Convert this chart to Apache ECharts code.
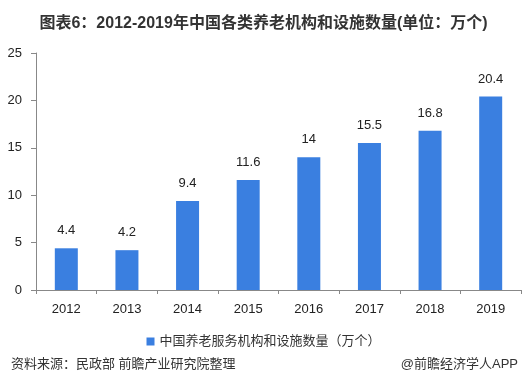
<!DOCTYPE html>
<html><head><meta charset="utf-8">
<script src="https://cdn.jsdelivr.net/npm/echarts@6/dist/echarts.min.js"></script>
<style>html,body{margin:0;padding:0;background:#fff}#c{width:527px;height:387px}</style>
</head><body><div id="c"></div>
<script>
const categories = ['2012','2013','2014','2015','2016','2017','2018','2019'];
const values = [4.4, 4.2, 9.4, 11.6, 14, 15.5, 16.8, 20.4];
const seriesName = '中国养老服务机构和设施数量（万个）';
const titleText = '图表6：2012-2019年中国各类养老机构和设施数量(单位：万个)';
const sourceText = '资料来源：民政部 前瞻产业研究院整理';
const creditText = '@前瞻经济学人APP';
const font = '"Liberation Sans", Arial, "Noto Sans CJK SC", sans-serif';
const chart = echarts.init(document.getElementById('c'), null, {renderer:'canvas'});
chart.setOption({
  animation:false,
  textStyle:{fontFamily:font},
  title:[{text:titleText,left:'center',top:11,textStyle:{fontSize:16,fontWeight:'bold',color:'#333',fontFamily:font}},
    {text:sourceText,left:6,top:353,textStyle:{fontSize:13,fontWeight:'normal',color:'#333',fontFamily:font}},
    {text:creditText,right:4,top:353,textStyle:{fontSize:13,fontWeight:'normal',color:'#333',fontFamily:font}}],
  legend:{data:[seriesName],top:330,left:'center',itemWidth:8,itemHeight:8,icon:'rect',itemGap:5,textStyle:{fontSize:13,color:'#333'}},
  grid:{left:36,right:6,top:53,bottom:97},
  xAxis:{type:'category',data:categories,
    axisLine:{lineStyle:{color:'#888'}},axisTick:{show:true,lineStyle:{color:'#888'},length:4},
    axisLabel:{fontSize:13,color:'#222',margin:13}},
  yAxis:{type:'value',min:0,max:25,interval:5,splitLine:{show:false},
    axisLine:{show:true,lineStyle:{color:'#888'}},axisTick:{show:true,lineStyle:{color:'#888'},length:5},
    axisLabel:{fontSize:13,color:'#222',margin:14}},
  series:[{name:seriesName,type:'bar',data:values,barWidth:23,itemStyle:{color:'#3a7fe0'},
    label:{show:true,position:'top',distance:11,fontSize:13,color:'#222'}}]
});
</script></body></html>
